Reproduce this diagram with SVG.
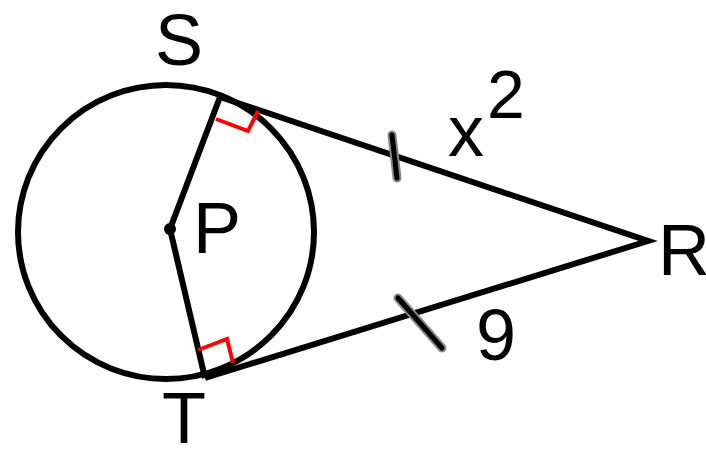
<svg xmlns="http://www.w3.org/2000/svg" width="706" height="449" viewBox="0 0 706 449">
<style>
.ln{fill:none;stroke:#000;stroke-width:6;stroke-linejoin:miter;stroke-linecap:butt}
.ra{fill:none;stroke:#ff0000;stroke-width:4;stroke-linejoin:miter}
.tk1{stroke:#888;stroke-width:9;stroke-linecap:round}
.tk2{stroke:#000;stroke-width:5;stroke-linecap:round}
text{font-family:"Liberation Sans",Arial,sans-serif;fill:#000;font-size:72px}
</style>
<rect width="706" height="449" fill="#fff"/>
<g id="circle"><ellipse cx="166" cy="232" rx="148" ry="147" class="ln"/></g>
<g id="connectors">
<polyline class="ln" points="220,97 170,229 205,378"/>
<polyline class="ln" points="220,97 648,241 205,378"/>
</g>
<g id="marks">
<polyline class="ra" points="216,119 248,131 258,111"/>
<polyline class="ra" points="198,350 227,339 233,363"/>
<line class="tk1" x1="392" y1="135" x2="397" y2="178"/>
<line class="tk2" x1="392" y1="135" x2="397" y2="178"/>
<line class="tk1" x1="398" y1="298" x2="442" y2="348"/>
<line class="tk2" x1="398" y1="298" x2="442" y2="348"/>
</g>
<g id="P"><circle cx="170" cy="229" r="6" fill="#000"/><text x="193" y="253">P</text></g>
<g id="S"><text x="155" y="65">S</text></g>
<g id="T"><text x="162" y="443">T</text></g>
<g id="R"><text x="658" y="275">R</text></g>
<g id="labels">
<text x="448" y="156">x</text>
<text x="487" y="118" style="font-size:68px">2</text>
<text x="476" y="360">9</text>
</g>
</svg>
